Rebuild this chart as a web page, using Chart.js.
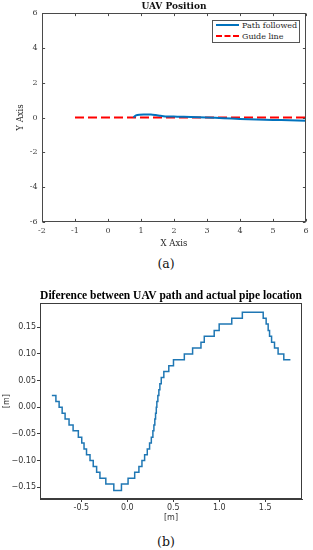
<!DOCTYPE html>
<html>
<head>
<meta charset="utf-8">
<script src="https://cdn.jsdelivr.net/npm/chart.js@4/dist/chart.umd.min.js"></script>
<style>
  html, body { margin: 0; padding: 0; background: #fff; width: 313px; height: 550px; overflow: hidden; }
  canvas { position: absolute; left: 0; }
  #ca { top: 0; }
  #cb { top: 287px; }
  .cap { position: absolute; left: 0; width: 332px; text-align: center; font-family: "DejaVu Serif", serif; font-size: 12.5px; color: #111; line-height: 16px; }
  #legendA { position: absolute; left: 212px; top: 20px; width: 86px; height: 21px; border: 1px solid #555; background: #fff;
             font-family: "DejaVu Serif", serif; font-size: 8px; color: #262626; }
  .lrow { position: absolute; left: 3px; height: 10px; line-height: 10px; white-space: nowrap; }
  .lsw { display: inline-block; width: 23px; height: 0; vertical-align: middle; margin-right: 3px; position: relative; top: -1px; }
</style>
</head>
<body>
<canvas id="ca" width="313" height="250"></canvas>
<div id="legendA">
  <div class="lrow" style="top:0px"><span class="lsw" style="border-top:2px solid #0072BD"></span>Path followed</div>
  <div class="lrow" style="top:11px"><span class="lsw" style="border-top:2px dashed #FF0000"></span>Guide line</div>
</div>
<div class="cap" style="top:256px;">(a)</div>
<canvas id="cb" width="313" height="238"></canvas>
<div class="cap" style="top:534px;">(b)</div>
<script>
// ---------- Chart (a): UAV Position ----------
const pathX = [0.77, 0.85, 0.95, 1.10, 1.30, 1.45, 1.60, 1.80, 2.10, 2.50, 3.00, 3.50, 4.00, 4.50, 5.00, 5.50, 6.00];
const pathY = [0.00, 0.12, 0.16, 0.17, 0.17, 0.14, 0.10, 0.06, 0.05, 0.03, 0.00, -0.04, -0.08, -0.11, -0.14, -0.16, -0.18];
const guideX = [-1, 6];
const guideY = [0, 0];
const aTicksX = [-2, -1, 0, 1, 2, 3, 4, 5, 6];
const aTicksY = [-6, -4, -2, 0, 2, 4, 6];

// ---------- Chart (b): difference ----------
const diffX = [-0.821,-0.777,-0.742,-0.709,-0.677,-0.634,-0.590,-0.533,-0.496,-0.471,-0.444,-0.406,-0.371,-0.334,-0.298,-0.234,-0.147,-0.064,0.008,0.080,0.126,0.159,0.188,0.217,0.242,0.261,0.278,0.289,0.299,0.307,0.315,0.321,0.332,0.343,0.354,0.369,0.397,0.451,0.502,0.620,0.710,0.801,0.837,0.945,0.999,1.136,1.251,1.478,1.510,1.532,1.547,1.569,1.601,1.640,1.702,1.774];
const diffY = [0.022,0.011,0.000,-0.011,-0.022,-0.033,-0.044,-0.056,-0.067,-0.078,-0.089,-0.100,-0.111,-0.122,-0.133,-0.144,-0.156,-0.144,-0.133,-0.122,-0.111,-0.100,-0.089,-0.078,-0.067,-0.056,-0.044,-0.033,-0.022,-0.011,0.000,0.011,0.022,0.033,0.044,0.056,0.067,0.078,0.089,0.100,0.111,0.122,0.133,0.144,0.156,0.167,0.178,0.167,0.156,0.144,0.133,0.122,0.111,0.100,0.089,0.089];
const bTicksX = [-0.5, 0.0, 0.5, 1.0, 1.5];
const bTicksY = [-0.15, -0.10, -0.05, 0.00, 0.05, 0.10, 0.15];

const toPts = (xs, ys) => xs.map((x, i) => ({x: x, y: ys[i]}));

// frame with inward ticks (MATLAB style)
const matlabFrame = {
  id: 'matlabFrame',
  afterDraw(chart) {
    const {ctx, chartArea: a, scales: {x, y}} = chart;
    const L = Math.round(a.left) + 0.5, R = Math.round(a.right) - 0.5;
    const T = Math.round(a.top) + 0.5, B = Math.round(a.bottom) - 0.5;
    ctx.save();
    ctx.strokeStyle = '#4a4a4a';
    ctx.lineWidth = 1;
    ctx.strokeRect(L, T, R - L, B - T);
    const len = 2.6;
    ctx.beginPath();
    x.ticks.forEach(t => {
      const px = Math.round(x.getPixelForValue(t.value)) + 0.5;
      ctx.moveTo(px, B); ctx.lineTo(px, B - len);
      ctx.moveTo(px, T); ctx.lineTo(px, T + len);
    });
    y.ticks.forEach(t => {
      const py = Math.round(y.getPixelForValue(t.value)) + 0.5;
      ctx.moveTo(L, py); ctx.lineTo(L + len, py);
      ctx.moveTo(R, py); ctx.lineTo(R - len, py);
    });
    ctx.stroke();
    ctx.restore();
  }
};

// box frame (matplotlib style)
const mplFrame = {
  id: 'mplFrame',
  afterDraw(chart) {
    const {ctx, chartArea: a} = chart;
    ctx.save();
    ctx.strokeStyle = '#3c3c3c';
    ctx.lineWidth = 1;
    const L = Math.round(a.left) + 0.5, R = Math.round(a.right) - 0.5;
    const T = Math.round(a.top) + 0.5, B = Math.round(a.bottom) - 0.5;
    ctx.strokeRect(L, T, R - L, B - T);
    ctx.restore();
  }
};

const serif = "'DejaVu Serif', serif";
const sans = "'DejaVu Sans', sans-serif";

new Chart(document.getElementById('ca'), {
  type: 'line',
  data: {
    datasets: [
      { label: 'Path followed', data: toPts(pathX, pathY), borderColor: '#0072BD', borderWidth: 2, pointRadius: 0, tension: 0.3, fill: false },
      { label: 'Guide line', data: toPts(guideX, guideY), borderColor: '#FF0000', borderWidth: 2, borderDash: [9, 4], pointRadius: 0, fill: false }
    ]
  },
  options: {
    responsive: false, animation: false, devicePixelRatio: 1,
    layout: { padding: { left: 0, right: 7, top: 0, bottom: 0 } },
    plugins: {
      legend: { display: false },
      tooltip: { enabled: false },
      title: { display: true, fullSize: false, text: 'UAV Position', color: '#111', font: { family: serif, size: 9, weight: 'bold', lineHeight: 1.2 }, padding: { top: 1, bottom: 1.2 } }
    },
    scales: {
      x: {
        type: 'linear', min: -2, max: 6,
        afterBuildTicks: s => { s.ticks = aTicksX.map(v => ({value: v})); },
        afterFit: s => { s.height = 28; },
        grid: { display: false, drawTicks: false },
        border: { display: false },
        ticks: { color: '#404040', font: { family: serif, size: 8 }, padding: 4, maxRotation: 0, autoSkip: false },
        title: { display: true, text: 'X Axis', color: '#262626', font: { family: serif, size: 8.5 }, padding: { top: 0, bottom: 1.5 } }
      },
      y: {
        type: 'linear', min: -6, max: 6,
        afterBuildTicks: s => { s.ticks = aTicksY.map(v => ({value: v})); },
        afterFit: s => { s.width = 42; },
        grid: { display: false, drawTicks: false },
        border: { display: false },
        ticks: { color: '#404040', font: { family: serif, size: 8 }, padding: 4.5 },
        title: { display: true, text: 'Y Axis', color: '#262626', font: { family: serif, size: 8.5 }, padding: { top: 16, bottom: 0 } }
      }
    }
  },
  plugins: [matlabFrame]
});

new Chart(document.getElementById('cb'), {
  type: 'line',
  data: {
    datasets: [
      { label: 'difference', data: toPts(diffX, diffY), borderColor: '#1f77b4', borderWidth: 1.5, pointRadius: 0, stepped: 'before', fill: false }
    ]
  },
  options: {
    responsive: false, animation: false, devicePixelRatio: 1,
    layout: { padding: { left: 0, right: 11, top: 0, bottom: 0 } },
    plugins: {
      legend: { display: false },
      tooltip: { enabled: false },
      title: { display: true, fullSize: false, text: 'Diference between UAV path and actual pipe location', color: '#000', font: { family: "'Liberation Serif', serif", size: 11.5, weight: 'bold', lineHeight: 1.2 }, padding: { top: 2, bottom: 0.5 } }
    },
    scales: {
      x: {
        type: 'linear', min: -0.95, max: 1.90,
        afterBuildTicks: s => { s.ticks = bTicksX.map(v => ({value: v})); },
        afterFit: s => { s.height = 26; },
        grid: { display: true, drawOnChartArea: false, drawTicks: true, tickLength: 3, color: '#3c3c3c' },
        border: { display: true, color: '#3c3c3c' },
        ticks: { color: '#333', font: { family: sans, size: 8 }, padding: 1, maxRotation: 0, autoSkip: false, callback: v => v.toFixed(1) },
        title: { display: true, text: '[m]', color: '#333', font: { family: sans, size: 8 }, padding: { top: 0, bottom: 2 } }
      },
      y: {
        type: 'linear', min: -0.172, max: 0.195,
        afterBuildTicks: s => { s.ticks = bTicksY.map(v => ({value: v})); },
        afterFit: s => { s.width = 40; },
        grid: { display: true, drawOnChartArea: false, drawTicks: true, tickLength: 3, color: '#3c3c3c' },
        border: { display: true, color: '#3c3c3c' },
        ticks: { color: '#333', font: { family: sans, size: 8 }, padding: 1, callback: v => (v < 0 ? '\u2212' : '') + Math.abs(v).toFixed(2) },
        title: { display: true, text: '[m]', color: '#333', font: { family: sans, size: 8 }, padding: { top: 2, bottom: 0 } }
      }
    }
  },
  plugins: [mplFrame]
});
</script>
</body>
</html>
